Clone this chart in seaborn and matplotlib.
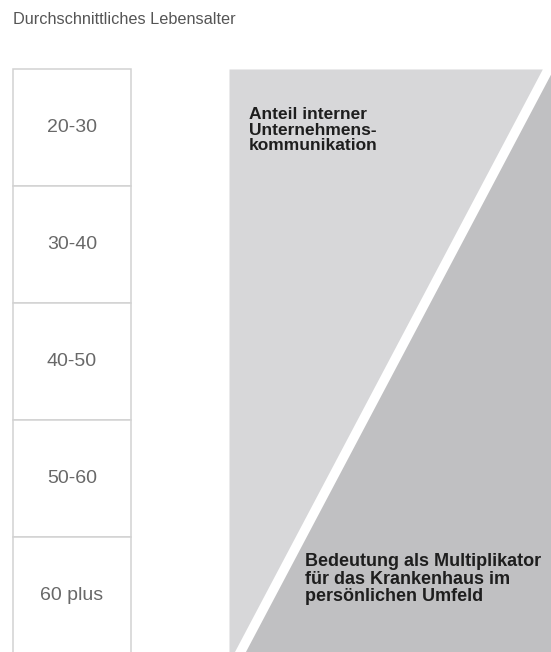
import matplotlib
matplotlib.use("Agg")
import matplotlib.pyplot as plt
import numpy as np
import pandas as pd
import seaborn as sns

# Altersgruppen (linke Spalte)
altersgruppen = ["20-30", "30-40", "40-50", "50-60", "60 plus"]
# Anteil interner Kommunikation am Beginn (20) und Ende (60 plus) der Altersskala
skalen_punkte = ["Beginn", "Ende"]
anteil_intern = [0.99, 0.03]

titel = "Durchschnittliches Lebensalter"
text_intern = "Anteil interner\nUnternehmens-\nkommunikation"
text_multiplikator = "Bedeutung als Multiplikator\nfür das Krankenhaus im\npersönlichen Umfeld"

sns.set_theme(style="white")
plt.rcParams["font.family"] = ["Liberation Sans", "DejaVu Sans"]

W, H = 551, 652
box_px = 117          # Höhe einer Altersgruppe in Pixel
top_px = 69
fig = plt.figure(figsize=(W / 100, H / 100), dpi=100)
fig.patch.set_facecolor("white")

y_unten = -0.5 + (H - top_px) / box_px

# ==========================================
# LINKE SPALTE: Altersgruppen als Kästen
# ==========================================
ax_box = fig.add_axes([13 / W, 0, 118 / W, (H - top_px) / H])
df_alter = pd.DataFrame({"gruppe": altersgruppen, "wert": np.ones(len(altersgruppen))})
sns.barplot(data=df_alter, x="wert", y="gruppe", orient="h", width=1.0,
            color="white", saturation=1, edgecolor="#d2d2d2", linewidth=1.1, ax=ax_box)
for p in ax_box.patches:
    p.set_clip_on(False)
for i, gruppe in enumerate(altersgruppen):
    ax_box.text(0.5, i, gruppe, ha="center", va="center", fontsize=14, color="#686868")
ax_box.set_xlim(0, 1)
ax_box.set_ylim(y_unten, -0.5)
ax_box.axis("off")

# ==========================================
# RECHTS: Keil interne Kommunikation vs. Multiplikator
# ==========================================
ax_w = fig.add_axes([229 / W, 0, (W - 229) / W, (H - top_px) / H])
y_skala = np.array([-0.5, len(altersgruppen) - 0.5])
grenze = np.array(anteil_intern)
spalt = 0.017
ax_w.fill_betweenx(y_skala, 0, grenze - spalt, color="#d7d7d9", lw=0)
ax_w.fill_betweenx(y_skala, grenze + spalt, 1.05, color="#c0c0c2", lw=0)
ax_w.set_xlim(0, 1)
ax_w.set_ylim(y_unten, -0.5)
ax_w.axis("off")

fig.text(249 / W, 1 - 107 / H, text_intern, ha="left", va="top", fontsize=12.5,
         fontweight="bold", color="#1e1e1e", linespacing=1.05)
fig.text(305 / W, 1 - 553 / H, text_multiplikator, ha="left", va="top", fontsize=13,
         fontweight="bold", color="#1e1e1e", linespacing=1.05)

fig.text(13 / W, 1 - 19 / H, titel, ha="left", va="center", fontsize=11.7, color="#555555")

fig.savefig("out.png", dpi=100, facecolor="white")
